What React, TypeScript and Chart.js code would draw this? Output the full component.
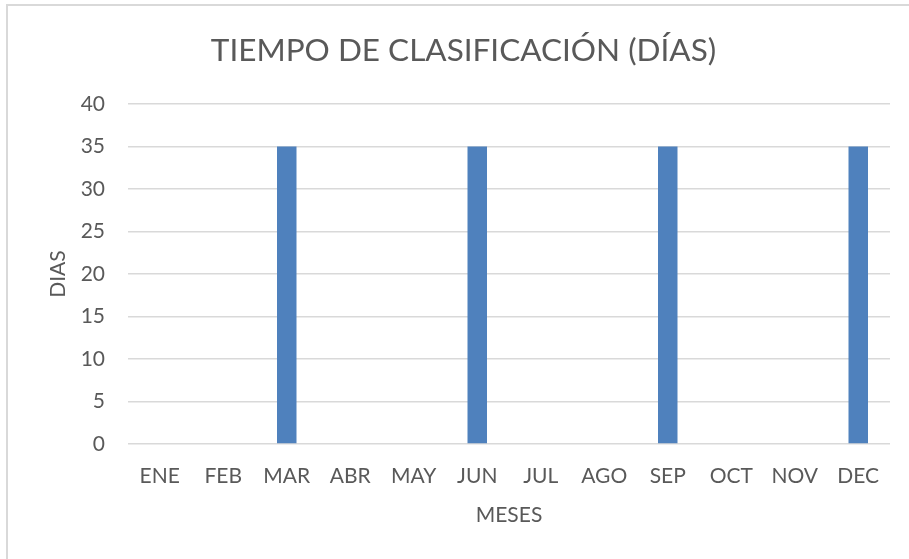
import React, { useEffect, useRef } from "react";
import { Chart, registerables } from "chart.js";

Chart.register(...registerables);

const MONTHS = ["ENE", "FEB", "MAR", "ABR", "MAY", "JUN", "JUL", "AGO", "SEP", "OCT", "NOV", "DEC"];
const DAYS = [0, 0, 35, 0, 0, 35, 0, 0, 35, 0, 0, 35];
const TITLE = "TIEMPO DE CLASIFICACIÓN (DÍAS)";
const Y_TITLE = "DIAS";
const X_TITLE = "MESES";
const Y_MIN = 0;
const Y_MAX = 40;
const Y_STEP = 5;

const TEXT = "#595959";
const GRID = "#d9d9d9";
const BAR = "#4f81bd";
const FONT = "Lato, 'Open Sans', sans-serif";

export default function App() {
  const ref = useRef<HTMLCanvasElement | null>(null);

  useEffect(() => {
    if (!ref.current) return;
    const chart = new Chart(ref.current, {
      type: "bar",
      data: {
        labels: MONTHS,
        datasets: [
          {
            label: Y_TITLE,
            data: DAYS,
            backgroundColor: BAR,
            borderWidth: 0,
            categoryPercentage: 1,
            barPercentage: 0.307,
          },
        ],
      },
      options: {
        responsive: false,
        animation: false,
        devicePixelRatio: 1,
        layout: { padding: { left: 18, right: 0, top: 0, bottom: 0 } },
        plugins: {
          legend: { display: false },
          tooltip: { enabled: false },
          title: {
            display: true,
            text: TITLE,
            color: TEXT,
            font: { family: FONT, size: 31.5, weight: "normal", lineHeight: 1.2 },
            padding: { top: 32, bottom: 34.2 },
          },
        },
        scales: {
          x: {
            grid: { display: false, drawTicks: false },
            border: { display: false },
            ticks: { color: TEXT, font: { family: FONT, size: 21 }, padding: 20, maxRotation: 0, autoSkip: false },
            title: {
              display: true,
              text: X_TITLE,
              color: TEXT,
              font: { family: FONT, size: 21, lineHeight: 1.2 },
              padding: { top: 0, bottom: 31.4 },
            },
            afterFit: (s: any) => {
              s.height = 115;
            },
          },
          y: {
            min: Y_MIN,
            max: Y_MAX,
            grid: { color: GRID, lineWidth: 1.5, drawTicks: false },
            border: { display: false },
            ticks: { stepSize: Y_STEP, color: TEXT, font: { family: FONT, size: 21 }, padding: 23 },
            title: {
              display: true,
              text: Y_TITLE,
              color: TEXT,
              font: { family: FONT, size: 21, lineHeight: 1.2 },
              padding: { top: 27.4, bottom: 0 },
            },
            afterFit: (s: any) => {
              s.width = 110;
            },
          },
          yR: {
            position: "right",
            display: true,
            grid: { display: false, drawTicks: false },
            border: { display: false },
            ticks: { display: false },
            afterFit: (s: any) => {
              s.width = 19;
            },
          },
        },
      },
    });
    return () => chart.destroy();
  }, []);

  return (
    <div style={{ position: "fixed", left: 0, top: 0, width: 909, height: 559, overflow: "hidden", background: "#fff" }}>
      <div
        style={{
          position: "absolute",
          left: 6,
          top: 4,
          width: 940,
          height: 600,
          borderLeft: `2px solid ${GRID}`,
          borderTop: `2px solid ${GRID}`,
        }}
      />
      <canvas ref={ref} width={909} height={559} style={{ position: "absolute", left: 0, top: 0 }} />
    </div>
  );
}
